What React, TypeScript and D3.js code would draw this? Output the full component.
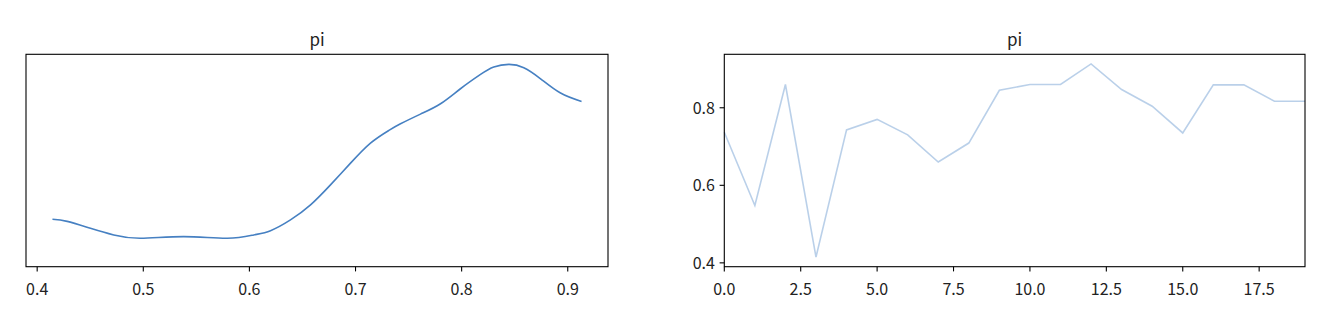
import React from "react";
import * as d3 from "d3";

const title = "pi";
// KDE of pi (left panel)
const kdeX = [0.4144, 0.4283, 0.4502, 0.4722, 0.4974, 0.5382, 0.5791, 0.6041, 0.6199, 0.6387, 0.6576, 0.6764, 0.6953, 0.7141, 0.7314, 0.7424, 0.7612, 0.7801, 0.7989, 0.8178, 0.8303, 0.8445, 0.8586, 0.8744, 0.8932, 0.913];
const kdeY = [0.989, 0.945, 0.801, 0.662, 0.593, 0.626, 0.593, 0.662, 0.751, 0.975, 1.288, 1.705, 2.158, 2.575, 2.84, 2.978, 3.18, 3.396, 3.709, 4.007, 4.162, 4.216, 4.147, 3.917, 3.619, 3.444];
const kdeTicks = [0.4, 0.5, 0.6, 0.7, 0.8, 0.9];
// Trace of pi (right panel)
const traceValues = [0.737, 0.548, 0.86, 0.415, 0.743, 0.77, 0.73, 0.66, 0.709, 0.845, 0.86, 0.86, 0.913, 0.847, 0.804, 0.735, 0.859, 0.859, 0.817, 0.817];
const traceXTicks = [0, 2.5, 5, 7.5, 10, 12.5, 15, 17.5];
const traceYTicks = [0.4, 0.6, 0.8];

const FONT = "'Noto Sans CJK SC', 'Noto Sans', sans-serif";
const LINE = "#4680c2";
const TRACE = "#3a78c0";

export default function App() {
  const top = 54.3, bottom = 266.7;
  const L = { x0: 26, x1: 608 };
  const R = { x0: 724.3, x1: 1305 };

  const dMin = d3.min(kdeX)!, dMax = d3.max(kdeX)!;
  const m = (dMax - dMin) * 0.05;
  const xL = d3.scaleLinear().domain([dMin - m, dMax + m]).range([L.x0, L.x1]);
  const yL = d3.scaleLinear().domain([0, d3.max(kdeY)! * 1.05]).range([bottom, top]);

  const tMin = d3.min(traceValues)!, tMax = d3.max(traceValues)!;
  const tm = (tMax - tMin) * 0.05;
  const xR = d3.scaleLinear().domain([0, traceValues.length - 1]).range([R.x0, R.x1]);
  const yR = d3.scaleLinear().domain([tMin - tm, tMax + tm]).range([bottom, top]);

  const kdePath = d3.line<number>().x((_, i) => xL(kdeX[i])).y((d) => yL(d)).curve(d3.curveNatural)(kdeY)!;
  const tracePath = d3.line<number>().x((_, i) => xR(i)).y((d) => yR(d))(traceValues)!;

  const tickLen = 4.7;
  const fs = 16;
  const xLabelBase = 294.5;

  return (
    <svg width={1330} height={309} style={{ position: "absolute", left: 0, top: 0 }} fontFamily={FONT}>
      <rect x={0} y={0} width={1330} height={309} fill="#fff" />
      {/* Left panel */}
      <path d={kdePath} fill="none" stroke={LINE} strokeWidth={1.6} />
      <rect x={L.x0} y={top} width={L.x1 - L.x0} height={bottom - top} fill="none" stroke="#000" strokeWidth={1.1} />
      {kdeTicks.map((t) => (
        <g key={t}>
          <line x1={xL(t)} x2={xL(t)} y1={bottom} y2={bottom + tickLen} stroke="#000" strokeWidth={1.1} />
          <text x={xL(t)} y={xLabelBase} textAnchor="middle" fontSize={fs} fill="#222">{t.toFixed(1)}</text>
        </g>
      ))}
      <text x={(L.x0 + L.x1) / 2} y={46} textAnchor="middle" fontSize={17} fill="#222">{title}</text>

      {/* Right panel */}
      <path d={tracePath} fill="none" stroke={TRACE} strokeOpacity={0.35} strokeWidth={1.6} />
      <rect x={R.x0} y={top} width={R.x1 - R.x0} height={bottom - top} fill="none" stroke="#000" strokeWidth={1.1} />
      {traceXTicks.map((t) => (
        <g key={t}>
          <line x1={xR(t)} x2={xR(t)} y1={bottom} y2={bottom + tickLen} stroke="#000" strokeWidth={1.1} />
          <text x={xR(t)} y={xLabelBase} textAnchor="middle" fontSize={fs} fill="#222">{t.toFixed(1)}</text>
        </g>
      ))}
      {traceYTicks.map((t) => (
        <g key={t}>
          <line x1={R.x0 - tickLen} x2={R.x0} y1={yR(t)} y2={yR(t)} stroke="#000" strokeWidth={1.1} />
          <text x={R.x0 - tickLen - 4.7} y={yR(t) + 5.8} textAnchor="end" fontSize={fs} fill="#222">{t.toFixed(1)}</text>
        </g>
      ))}
      <text x={(R.x0 + R.x1) / 2} y={46} textAnchor="middle" fontSize={17} fill="#222">{title}</text>
    </svg>
  );
}
